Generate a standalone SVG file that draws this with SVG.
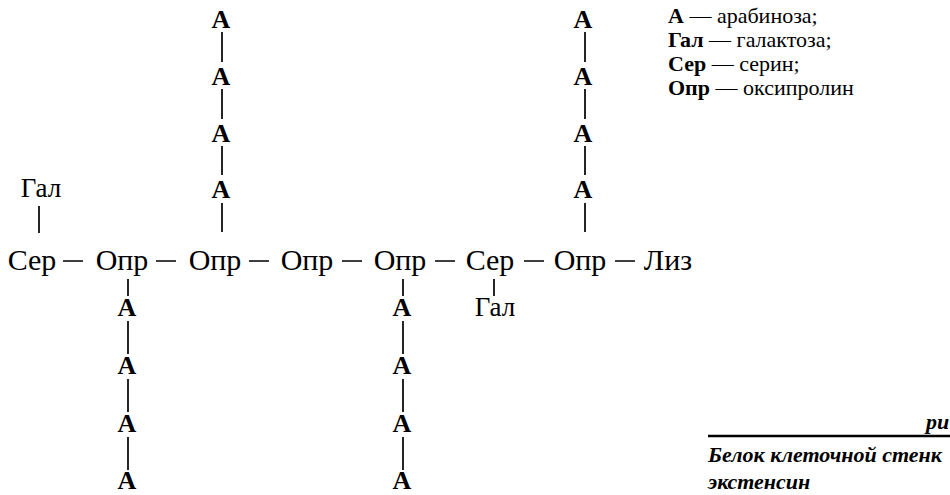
<svg xmlns="http://www.w3.org/2000/svg" width="950" height="495" viewBox="0 0 950 495">
<style>
text{font-family:"Liberation Serif","Times New Roman","DejaVu Serif",serif;fill:#000}
.row{font-size:30px;text-anchor:middle}
.a{font-size:26px;font-weight:bold;text-anchor:middle}
.gal{font-size:27px;text-anchor:middle}
.leg{font-size:22px}
.b{font-weight:bold}
.cap{font-size:22px;font-style:italic;font-weight:bold}
.ln{stroke:#000;stroke-width:1.7;fill:none}
</style>
<rect width="950" height="495" fill="#fff"/>
<g id="connectors" class="ln">
<path d="M63 261H83M156 261H176M249 261H269M342 261H362M435 261H455M524 261H544M615 261H635"/>
<path d="M39 206V233"/>
<path d="M222 32V62M222 89V119M222 146V175M222 203V232"/>
<path d="M585 32V62M585 89V119M585 146V175M585 203V232"/>
<path d="M128 279V296M128 321V354M128 379V412M128 437V470"/>
<path d="M403 279V296M403 321V354M403 379V412M403 437V470"/>
<path d="M494 279V296"/>
</g>
<g id="n-ser1"><text class="row" x="32" y="270">Сер</text></g>
<g id="n-gal1"><text class="gal" x="41" y="197">Гал</text></g>
<g id="n-opr1"><text class="row" x="122" y="270">Опр</text></g>
<g id="n-opr2"><text class="row" x="215" y="270">Опр</text></g>
<g id="n-opr3"><text class="row" x="307" y="270">Опр</text></g>
<g id="n-opr4"><text class="row" x="400" y="270">Опр</text></g>
<g id="n-ser2"><text class="row" x="490" y="270">Сер</text></g>
<g id="n-gal2"><text class="gal" x="495" y="316">Гал</text></g>
<g id="n-opr5"><text class="row" x="580" y="270">Опр</text></g>
<g id="n-liz"><text class="row" x="668" y="270">Лиз</text></g>
<g id="chain-top1">
<text class="a" x="221" y="28">А</text><text class="a" x="221" y="85">А</text><text class="a" x="221" y="142">А</text><text class="a" x="221" y="198">А</text>
</g>
<g id="chain-top2">
<text class="a" x="583" y="28">А</text><text class="a" x="583" y="85">А</text><text class="a" x="583" y="142">А</text><text class="a" x="583" y="198">А</text>
</g>
<g id="chain-bot1">
<text class="a" x="127" y="316">А</text><text class="a" x="127" y="374">А</text><text class="a" x="127" y="432">А</text><text class="a" x="127" y="489">А</text>
</g>
<g id="chain-bot2">
<text class="a" x="402" y="316">А</text><text class="a" x="402" y="374">А</text><text class="a" x="402" y="432">А</text><text class="a" x="402" y="489">А</text>
</g>
<g id="legend" class="leg">
<text x="668" y="23"><tspan class="b">А</tspan> — арабиноза;</text>
<text x="668" y="47"><tspan class="b">Гал</tspan> — галактоза;</text>
<text x="668" y="71"><tspan class="b">Сер</tspan> — серин;</text>
<text x="668" y="95"><tspan class="b">Опр</tspan> — оксипролин</text>
</g>
<g id="caption">
<text class="cap" x="926" y="429">ри</text>
<path d="M708 436H950" stroke="#000" stroke-width="2.5"/>
<text class="cap" x="708" y="462">Белок клеточной стенк</text>
<text class="cap" x="708" y="489">экстенсин</text>
</g>
</svg>
